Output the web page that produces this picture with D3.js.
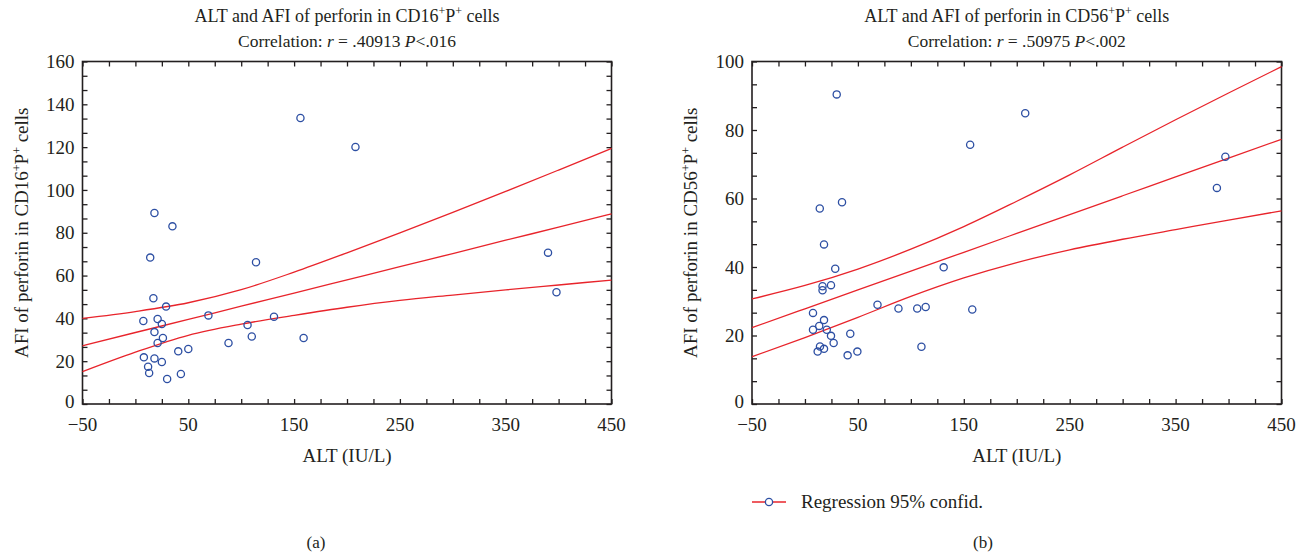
<!DOCTYPE html>
<html>
<head>
<meta charset="utf-8">
<script src="https://cdn.jsdelivr.net/npm/d3@7"></script>
<style>
  body { margin: 0; background: #fff; }
  text { font-family: "Liberation Serif", "DejaVu Serif", serif; fill: #231f20; }
</style>
</head>
<body>
<svg id="chart" width="1306" height="556"></svg>
<script>
// ALT (IU/L) and AFI of perforin
var leftALT = [156, 208, 18, 35, 14, 114, 17, 29, 7.5, 21, 25, 69, 106, 131, 18, 26,
               110, 159, 21, 88, 40.5, 50, 8, 18, 25, 12, 13, 43, 30, 390, 398];
var leftAFI = [133.6, 120.1, 89.2, 83.0, 68.4, 66.2, 49.4, 45.5, 38.8, 39.7, 37.4, 41.4, 36.9, 40.8, 33.6, 30.8,
               31.5, 30.8, 28.5, 28.5, 24.6, 25.7, 21.8, 21.3, 19.6, 17.4, 14.5, 14.0, 11.7, 70.7, 52.2];

var rightALT = [30, 156, 14, 35, 18, 28.6, 131, 16.6, 16.6, 24.6, 7.6, 68.5, 88.3, 106, 114, 158,
                18, 13.5, 7.6, 20.6, 24.6, 42.8, 27.1, 14.2, 18, 12, 40.3, 49.5, 110, 208, 397, 389];
var rightAFI = [90.4, 75.7, 57.1, 58.9, 46.6, 39.5, 39.9, 34.4, 33.2, 34.7, 26.6, 29.0, 27.9, 27.9, 28.3, 27.6,
                24.5, 22.8, 21.7, 21.7, 19.9, 20.5, 17.8, 16.8, 16.1, 15.3, 14.2, 15.3, 16.7, 84.9, 72.2, 63.1];

// regression line and 95% confidence curves, read at these ALT values
var curveALT   = [-50, 0, 50, 100, 150, 200, 250, 300, 350, 400, 450];
var leftUpper  = [40.0, 43.2, 47.3, 53.4, 61.6, 70.6, 79.9, 89.5, 99.3, 109.3, 119.4];
var leftFit    = [27.2, 33.4, 39.5, 45.7, 51.8, 58.0, 64.2, 70.3, 76.5, 82.6, 88.8];
var leftLower  = [15.1, 24.2, 32.1, 37.3, 41.4, 45.2, 48.4, 50.9, 53.3, 55.6, 57.9];
var rightUpper = [30.7, 34.6, 39.4, 45.2, 51.8, 59.2, 66.9, 75.0, 83.0, 90.8, 98.5];
var rightFit   = [22.3, 27.8, 33.3, 38.8, 44.3, 49.8, 55.3, 60.8, 66.3, 71.8, 77.3];
var rightLower = [13.8, 19.4, 25.3, 31.4, 36.8, 41.3, 45.0, 48.1, 50.9, 53.7, 56.4];

var xLabels = [-50, 50, 150, 250, 350, 450];
var leftYLabels = [0, 20, 40, 60, 80, 100, 120, 140, 160];
var rightYLabels = [0, 20, 40, 60, 80, 100];

var svg = d3.select('#chart');
var red = '#e8242b', blue = '#2d4fa3', ink = '#231f20';

function drawPanel(p) {
    var x = d3.scaleLinear().domain([-50, 450]).range([p.left, p.right]);
    var y = d3.scaleLinear().domain([0, p.yMax]).range([p.bottom, p.top]);
    var g = svg.append('g');

    var xTicks = d3.range(0, 21).map(function(i) { return -50 + i * 25; });
    var yTicks = d3.range(0, p.yMax * 3 / 20 + 1).map(function(i) { return i * 20 / 3; });

    // inward ticks on all four sides
    [[d3.axisBottom(x), p.bottom, 0, xTicks], [d3.axisTop(x), p.top, 0, xTicks],
     [d3.axisLeft(y), 0, p.left, yTicks], [d3.axisRight(y), 0, p.right, yTicks]].forEach(function(a) {
        var ax = g.append('g')
            .attr('transform', 'translate(' + a[2] + ',' + a[1] + ')')
            .call(a[0].tickValues(a[3]).tickSize(-5).tickFormat(''));
        ax.select('.domain').remove();
        ax.selectAll('line').attr('stroke', ink).attr('stroke-width', 1.3);
    });

    g.append('rect')
        .attr('x', p.left).attr('y', p.top)
        .attr('width', p.right - p.left).attr('height', p.bottom - p.top)
        .attr('fill', 'none').attr('stroke', ink).attr('stroke-width', 1.6);

    g.selectAll('text.xl')
        .data(xLabels)
        .enter()
        .append('text')
          .attr('x', function(d) { return x(d); })
          .attr('y', p.bottom + 27)
          .attr('text-anchor', 'middle')
          .style('font-size', '19px')
          .text(function(d) { return d3.format('d')(d); });

    g.selectAll('text.yl')
        .data(p.yLabels)
        .enter()
        .append('text')
          .attr('x', p.left - 8)
          .attr('y', function(d) { return y(d); })
          .attr('dy', function(d) { return d === 0 ? '0.22em' : '0.35em'; })
          .attr('text-anchor', 'end')
          .style('font-size', '19px')
          .text(function(d) { return d; });

    // regression and confidence curves
    var line = d3.line()
        .x(function(d) { return x(d[0]); })
        .y(function(d) { return y(d[1]); })
        .curve(d3.curveMonotoneX);
    [p.upper, p.fit, p.lower].forEach(function(vals) {
        g.append('path')
            .attr('d', line(d3.zip(curveALT, vals)))
            .attr('fill', 'none')
            .attr('stroke', red)
            .attr('stroke-width', 1.3);
    });

    g.selectAll('circle')
        .data(d3.zip(p.alt, p.afi))
        .enter()
        .append('circle')
          .attr('cx', function(d) { return x(d[0]); })
          .attr('cy', function(d) { return y(d[1]); })
          .attr('r', 3.6)
          .attr('fill', 'none')
          .attr('stroke', blue)
          .attr('stroke-width', 1.3);

    var cx = (p.left + p.right) / 2;
    var t1 = g.append('text').attr('x', cx).attr('y', 22).attr('text-anchor', 'middle').style('font-size', '18px');
    t1.append('tspan').text('ALT and AFI of perforin in ' + p.cd);
    t1.append('tspan').attr('baseline-shift', 'super').style('font-size', '12px').text('+');
    t1.append('tspan').text('P');
    t1.append('tspan').attr('baseline-shift', 'super').style('font-size', '12px').text('+');
    t1.append('tspan').text(' cells');

    var t2 = g.append('text').attr('x', cx).attr('y', 47).attr('text-anchor', 'middle').style('font-size', '17.5px');
    t2.append('tspan').text('Correlation: ');
    t2.append('tspan').style('font-style', 'italic').text('r');
    t2.append('tspan').text(' = ' + p.r + ' ');
    t2.append('tspan').style('font-style', 'italic').text('P');
    t2.append('tspan').text('<' + p.pval);

    g.append('text')
        .attr('x', cx).attr('y', 462)
        .attr('text-anchor', 'middle')
        .style('font-size', '19px')
        .text('ALT (IU/L)');

    var yl = g.append('text')
        .attr('transform', 'translate(' + (p.left - 55) + ',' + ((p.top + p.bottom) / 2) + ') rotate(-90)')
        .attr('text-anchor', 'middle')
        .style('font-size', '19px');
    yl.append('tspan').text('AFI of perforin in ' + p.cd);
    yl.append('tspan').attr('baseline-shift', 'super').style('font-size', '12px').text('+');
    yl.append('tspan').text('P');
    yl.append('tspan').attr('baseline-shift', 'super').style('font-size', '12px').text('+');
    yl.append('tspan').text(' cells');

    g.append('text')
        .attr('x', p.letterX).attr('y', 548)
        .attr('text-anchor', 'middle')
        .style('font-size', '17px')
        .text(p.letter);
}

drawPanel({
    left: 82.5, right: 611.5, top: 61.5, bottom: 404, yMax: 160, yLabels: leftYLabels,
    alt: leftALT, afi: leftAFI, upper: leftUpper, fit: leftFit, lower: leftLower,
    cd: 'CD16', r: '.40913', pval: '.016', letter: '(a)', letterX: 316
});
drawPanel({
    left: 752, right: 1281.5, top: 61.5, bottom: 404, yMax: 100, yLabels: rightYLabels,
    alt: rightALT, afi: rightAFI, upper: rightUpper, fit: rightFit, lower: rightLower,
    cd: 'CD56', r: '.50975', pval: '.002', letter: '(b)', letterX: 983
});

// legend
var lg = svg.append('g');
lg.append('line').attr('x1', 752).attr('x2', 786).attr('y1', 502).attr('y2', 502)
    .attr('stroke', red).attr('stroke-width', 1.3);
lg.append('circle').attr('cx', 769).attr('cy', 502).attr('r', 3.6)
    .attr('fill', '#fff').attr('stroke', blue).attr('stroke-width', 1.3);
lg.append('text').attr('x', 801).attr('y', 508).style('font-size', '19px').text('Regression 95% confid.');
</script>
</body>
</html>
